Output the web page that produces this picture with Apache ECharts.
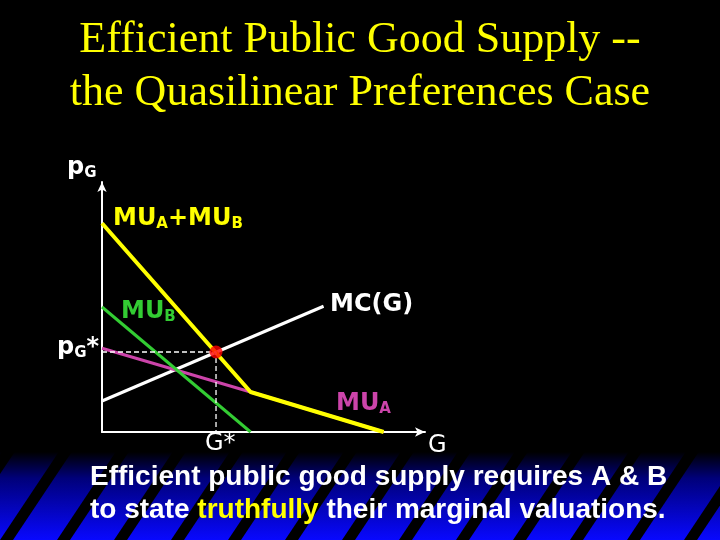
<!DOCTYPE html>
<html>
<head>
<meta charset="utf-8">
<script src="https://cdn.jsdelivr.net/npm/echarts@6/dist/echarts.min.js"></script>
<style>
  html, body { margin: 0; padding: 0; background: #000; }
  #chart { width: 720px; height: 540px; }
</style>
</head>
<body>
<div id="chart"></div>
<script>
// curves, in (G, pG) units
const mubLine = [[0, 5.0], [4.6, 0]];
const muaLine = [[0, 3.35], [4.6, 1.6], [8.72, 0]];
const sumLine = [[0, 8.35], [4.6, 1.6], [8.72, 0]];
const mcLine = [[0, 1.24], [6.86, 5.03]];
const optimum = [3.53, 3.2];

const titleLines = ["Efficient Public Good Supply --", "the Quasilinear Preferences Case"];
const noteLines = ["Efficient public good supply requires A & B", "to state {hl|truthfully} their marginal valuations."];

const chart = echarts.init(document.getElementById("chart"), null, { renderer: "canvas" });

const sans = "'DejaVu Sans', 'Liberation Sans', Arial, sans-serif";
const arial = "'Liberation Sans', Arial, sans-serif";
const subRich = (color, weight) => ({
  m: { fontFamily: sans, fontWeight: weight, fontSize: 24, lineHeight: 25, color: color, verticalAlign: "top" },
  s: { fontFamily: sans, fontWeight: weight, fontSize: 15, lineHeight: 15, color: color, verticalAlign: "bottom", padding: [14, 0, 0, 0] },
});

function label(x, y, text, color, weight) {
  return {
    type: "text", x: x, y: y, z: 20,
    style: { text: text, rich: subRich(color, weight || "bold"), fill: color },
  };
}

// decorative striped band at the bottom
const band = [{
  type: "rect", z: 1, silent: true,
  shape: { x: 0, y: 452, width: 720, height: 88 },
  style: {
    fill: new echarts.graphic.LinearGradient(0, 0, 0, 1, [
      { offset: 0, color: "#000000" },
      { offset: 0.3, color: "#00007a" },
      { offset: 1, color: "#0808ff" },
    ]),
  },
}];
for (let k = -2; k < 14; k++) {
  const x0 = k * 57;
  band.push({
    type: "polygon", z: 2, silent: true,
    shape: { points: [[x0, 540], [x0 + 13, 540], [x0 + 73, 450], [x0 + 60, 450]] },
    style: { fill: "#000" },
  });
}

const axisCommon = {
  type: "value", min: 0, max: 10,
  splitLine: { show: false }, axisTick: { show: false }, axisLabel: { show: false },
  axisLine: { show: true, symbol: ["none", "arrow"], symbolSize: [7, 10], lineStyle: { color: "#fff", width: 2 } },
};

const line = (data, color, width, z) => ({
  type: "line", data: data, symbol: "none", z: z, animation: false,
  lineStyle: { color: color, width: width },
});

const option = {
  backgroundColor: "#000",
  animation: false,
  title: {
    text: titleLines.join("\n"),
    left: "center", top: 14, padding: 0,
    textStyle: { fontFamily: "'Liberation Serif', 'Times New Roman', serif", fontWeight: "normal", fontSize: 44, lineHeight: 53, color: "#ffff00" },
  },
  grid: { left: 102, top: 182, width: 323, height: 250 },
  xAxis: axisCommon,
  yAxis: axisCommon,
  series: [
    line(mcLine, "#ffffff", 3, 2),
    line(muaLine, "#cc44aa", 3, 3),
    line(mubLine, "#33cc33", 3, 4),
    line(sumLine, "#ffff00", 4, 5),
    {
      type: "line", symbol: "none", z: 6,
      data: [[0, optimum[1]], optimum, [optimum[0], 0]],
      lineStyle: { color: "#ffffff", width: 1.3, type: [5, 3] },
    },
    {
      type: "scatter", z: 7, symbolSize: 13,
      data: [optimum],
      itemStyle: { color: "#ff0000" },
    },
  ],
  graphic: band.concat([
    label(67, 156, "{m|p}{s|G}", "#ffffff"),
    label(113, 207, "{m|MU}{s|A}{m|+MU}{s|B}", "#ffff00"),
    label(121, 300, "{m|MU}{s|B}", "#33cc33"),
    label(330, 293, "{m|MC(G)}", "#ffffff"),
    label(57, 336, "{m|p}{s|G}{m|*}", "#ffffff"),
    label(336, 392, "{m|MU}{s|A}", "#cc44aa"),
    label(205, 432, "{m|G*}", "#ffffff", "normal"),
    label(428, 434, "{m|G}", "#ffffff", "normal"),
    {
      type: "text", x: 90, y: 461, z: 20,
      style: {
        text: noteLines.join("\n"),
        fill: "#ffffff",
        font: "bold 28px " + arial,
        lineHeight: 33,
        rich: { hl: { fill: "#ffff00", color: "#ffff00", fontFamily: arial, fontWeight: "bold", fontSize: 28, lineHeight: 33 } },
      },
    },
  ]),
};

chart.setOption(option);
</script>
</body>
</html>
